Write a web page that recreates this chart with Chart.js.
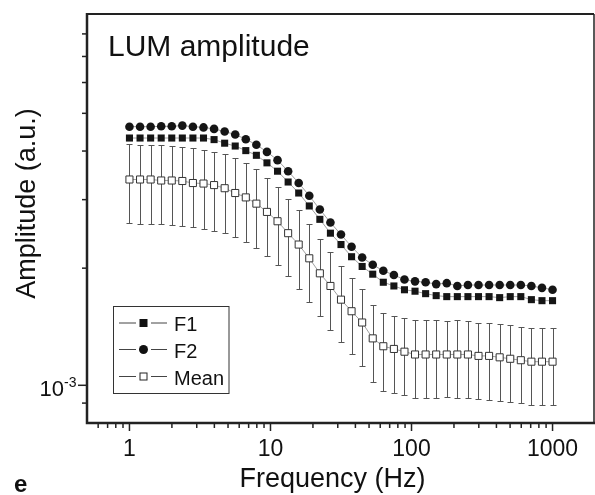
<!DOCTYPE html>
<html>
<head>
<meta charset="utf-8">
<script src="https://cdn.jsdelivr.net/npm/chart.js@4.4.1/dist/chart.umd.min.js"></script>
<style>
  html, body { margin: 0; padding: 0; background: #fff; }
</style>
</head>
<body>
<canvas id="lumChart" width="595" height="495"></canvas>
<script>
// Frequencies (Hz), 41 log-spaced steps from 1 to 1000
const freq = [
  1.000, 1.189, 1.413, 1.679, 1.995, 2.371, 2.818, 3.350, 3.981, 4.732,
  5.623, 6.683, 7.943, 9.441, 11.22, 13.34, 15.85, 18.84, 22.39, 26.61,
  31.62, 37.58, 44.67, 53.09, 63.10, 74.99, 89.13, 105.9, 125.9, 149.6,
  177.8, 211.3, 251.2, 298.5, 354.8, 421.7, 501.2, 595.7, 707.9, 841.4, 1000
];

// Amplitudes, in units of 10^-3
const f1 = [
  4.32, 4.32, 4.32, 4.32, 4.32, 4.32, 4.32, 4.32, 4.28, 4.19,
  4.12, 4.01, 3.90, 3.73, 3.55, 3.33, 3.12, 2.89, 2.67, 2.46,
  2.30, 2.14, 2.02, 1.93, 1.84, 1.80, 1.76, 1.745, 1.72, 1.70,
  1.69, 1.69, 1.69, 1.69, 1.69, 1.68, 1.69, 1.69, 1.66, 1.65, 1.65
];
const f2 = [
  4.62, 4.62, 4.62, 4.63, 4.63, 4.65, 4.62, 4.60, 4.56, 4.49,
  4.41, 4.29, 4.15, 3.98, 3.79, 3.55, 3.31, 3.07, 2.83, 2.62,
  2.44, 2.27, 2.13, 2.04, 1.97, 1.92, 1.87, 1.85, 1.84, 1.82,
  1.83, 1.80, 1.81, 1.81, 1.81, 1.81, 1.81, 1.81, 1.80, 1.78, 1.76
];
const mean = [
  3.38, 3.38, 3.38, 3.36, 3.36, 3.35, 3.31, 3.30, 3.27, 3.21,
  3.12, 3.04, 2.93, 2.79, 2.64, 2.46, 2.30, 2.12, 1.94, 1.80,
  1.66, 1.55, 1.45, 1.32, 1.26, 1.24, 1.22, 1.20, 1.20, 1.20,
  1.20, 1.20, 1.20, 1.19, 1.19, 1.18, 1.17, 1.16, 1.15, 1.15, 1.15
];
// error bar ends for the mean
const meanUpper = [
  4.17, 4.15, 4.15, 4.14, 4.13, 4.10, 4.07, 4.03, 3.98, 3.93,
  3.83, 3.73, 3.59, 3.42, 3.23, 3.02, 2.82, 2.60, 2.38, 2.20,
  2.03, 1.89, 1.77, 1.61, 1.53, 1.51, 1.49, 1.47, 1.47, 1.47,
  1.46, 1.47, 1.46, 1.45, 1.45, 1.44, 1.43, 1.41, 1.40, 1.40, 1.40
];
const meanLower = [
  2.61, 2.60, 2.60, 2.59, 2.58, 2.57, 2.55, 2.52, 2.49, 2.46,
  2.40, 2.34, 2.25, 2.15, 2.04, 1.91, 1.77, 1.64, 1.51, 1.39,
  1.29, 1.20, 1.12, 1.02, 0.968, 0.956, 0.943, 0.929, 0.925, 0.929,
  0.932, 0.929, 0.925, 0.923, 0.919, 0.912, 0.907, 0.898, 0.889, 0.889, 0.889
];
const unit = 1e-3;

const xTickLabels = [1, 10, 100, 1000];
const yMajorTick = 1e-3;

const FONT = "'Liberation Sans', Arial, Helvetica, sans-serif";

function toPoints(arr) {
  return arr.map((v, i) => ({ x: freq[i], y: v * unit }));
}

// log ticks at 1..9 x 10^n only (Chart.js also makes 1.5, 15, ...)
function isWholeStep(v) {
  const s = v / Math.pow(10, Math.floor(Math.log10(v) + 1e-9));
  return Math.abs(s - Math.round(s)) < 1e-6;
}

// error bars under the markers
const errorBars = {
  id: "errorBars",
  beforeDatasetsDraw(chart) {
    const { ctx } = chart;
    const x = chart.scales.x, y = chart.scales.y;
    ctx.save();
    ctx.strokeStyle = "#555";
    ctx.lineWidth = 1;
    freq.forEach((f, i) => {
      const px = Math.round(x.getPixelForValue(f)) + 0.5;
      const yt = Math.round(y.getPixelForValue(meanUpper[i] * unit)) + 0.5;
      const yb = Math.round(y.getPixelForValue(meanLower[i] * unit)) + 0.5;
      ctx.beginPath();
      ctx.moveTo(px, yt); ctx.lineTo(px, yb);
      ctx.moveTo(px - 3, yt); ctx.lineTo(px + 3, yt);
      ctx.moveTo(px - 3, yb); ctx.lineTo(px + 3, yb);
      ctx.stroke();
    });
    ctx.restore();
  }
};

// frame, tick marks, legend and the extra texts
const decorations = {
  id: "decorations",
  afterDraw(chart) {
    const { ctx, chartArea: a } = chart;
    const x = chart.scales.x, y = chart.scales.y;
    const right = a.right - 1;
    ctx.save();

    // frame
    ctx.strokeStyle = "#222";
    ctx.lineWidth = 2;
    ctx.beginPath();
    ctx.moveTo(a.left, a.top); ctx.lineTo(right, a.top);
    ctx.stroke();
    ctx.lineWidth = 1.5;
    ctx.beginPath();
    ctx.moveTo(right, a.top); ctx.lineTo(right, a.bottom);
    ctx.stroke();

    // tick marks
    ctx.lineWidth = 1.5;
    x.ticks.forEach(t => {
      if (!isWholeStep(t.value)) return;
      const px = x.getPixelForValue(t.value);
      if (px < a.left + 1 || px > right - 1) return;
      const len = xTickLabels.includes(t.value) ? 8 : 5;
      ctx.beginPath();
      ctx.moveTo(px, a.bottom); ctx.lineTo(px, a.bottom + len);
      ctx.stroke();
    });
    y.ticks.forEach(t => {
      if (!isWholeStep(t.value)) return;
      const py = y.getPixelForValue(t.value);
      if (py < a.top + 1 || py > a.bottom - 1) return;
      const len = Math.abs(t.value - yMajorTick) < 1e-9 ? 9 : 5;
      ctx.beginPath();
      ctx.moveTo(a.left, py); ctx.lineTo(a.left - len, py);
      ctx.stroke();
    });

    // left and bottom axis lines
    ctx.lineWidth = 2.5;
    ctx.beginPath();
    ctx.moveTo(a.left, a.top - 1); ctx.lineTo(a.left, a.bottom);
    ctx.lineTo(right + 1, a.bottom);
    ctx.stroke();

    ctx.fillStyle = "#111";
    // 10^-3 label
    const p3 = y.getPixelForValue(yMajorTick);
    ctx.textAlign = "right";
    ctx.textBaseline = "alphabetic";
    ctx.font = "22px " + FONT;
    ctx.fillText("10", 64, p3 + 11);
    ctx.textAlign = "left";
    ctx.font = "14px " + FONT;
    ctx.fillText("-3", 64, p3 + 2);

    // axis titles
    ctx.font = "27px " + FONT;
    ctx.textAlign = "center";
    ctx.fillText("Frequency (Hz)", 332.5, 487);
    ctx.save();
    ctx.translate(34.5, 203.5);
    ctx.rotate(-Math.PI / 2);
    ctx.fillText("Amplitude (a.u.)", 0, 0);
    ctx.restore();

    // panel title and letter
    ctx.textAlign = "left";
    ctx.font = "30px " + FONT;
    ctx.fillText("LUM amplitude", 108, 55.5);
    ctx.font = "bold 24px " + FONT;
    ctx.fillText("e", 14, 492);

    // legend
    ctx.strokeStyle = "#333";
    ctx.lineWidth = 1;
    ctx.strokeRect(113.5, 306.5, 115.5, 87);
    const rows = [
      { label: "F1", y: 323, style: "rect" },
      { label: "F2", y: 349.5, style: "circle" },
      { label: "Mean", y: 376.5, style: "open" }
    ];
    ctx.font = "20px " + FONT;
    rows.forEach(r => {
      ctx.strokeStyle = "#444";
      ctx.lineWidth = 1;
      ctx.beginPath();
      ctx.moveTo(119, r.y); ctx.lineTo(136, r.y);
      ctx.moveTo(151, r.y); ctx.lineTo(167, r.y);
      ctx.stroke();
      const cx = 143.5;
      if (r.style === "rect") {
        ctx.fillStyle = "#111";
        ctx.fillRect(cx - 4, r.y - 4, 8, 8);
      } else if (r.style === "circle") {
        ctx.fillStyle = "#111";
        ctx.beginPath();
        ctx.arc(cx, r.y, 4.5, 0, Math.PI * 2);
        ctx.fill();
      } else {
        ctx.fillStyle = "#fff";
        ctx.strokeStyle = "#222";
        ctx.fillRect(cx - 4, r.y - 4, 8, 8);
        ctx.strokeRect(cx - 3.5, r.y - 3.5, 7, 7);
      }
      ctx.fillStyle = "#111";
      ctx.fillText(r.label, 174, r.y + 8);
    });

    ctx.restore();
  }
};

const ctxLum = document.getElementById("lumChart").getContext("2d");
const lumChart = new Chart(ctxLum, {
  type: "line",
  data: {
    datasets: [
      {
        label: "F1",
        data: toPoints(f1),
        pointStyle: "rect",
        pointRadius: 5,
        pointBorderWidth: 0,
        pointBackgroundColor: "#151515",
        pointBorderColor: "#151515",
        borderColor: "#888",
        borderWidth: 0.8,
      },
      {
        label: "F2",
        data: toPoints(f2),
        pointStyle: "circle",
        pointRadius: 4.3,
        pointBorderWidth: 0,
        pointBackgroundColor: "#151515",
        pointBorderColor: "#151515",
        borderColor: "#888",
        borderWidth: 0.8,
      },
      {
        label: "Mean",
        data: toPoints(mean),
        pointStyle: "rect",
        pointRadius: 5,
        pointBorderWidth: 1,
        pointBackgroundColor: "#fff",
        pointBorderColor: "#333",
        borderColor: "#888",
        borderWidth: 0.8,
      },
    ],
  },
  options: {
    responsive: false,
    animation: false,
    layout: { autoPadding: false, padding: { top: 14, right: 0, left: 0, bottom: 0 } },
    elements: { line: { tension: 0 } },
    plugins: {
      legend: { display: false },
      tooltip: { enabled: false },
    },
    scales: {
      x: {
        type: "logarithmic",
        min: 0.5,
        max: 2000,
        grid: { display: false, drawTicks: false },
        border: { display: false },
        ticks: {
          autoSkip: false,
          maxRotation: 0,
          padding: 13,
          color: "#111",
          font: { family: FONT, size: 23 },
          callback: (value) => (xTickLabels.includes(value) ? String(value) : ""),
        },
        afterFit: (scale) => {
          scale.height = 72;
          scale.paddingLeft = 0;
          scale.paddingRight = 0;
        },
      },
      y: {
        type: "logarithmic",
        min: 0.8e-3,
        max: 9e-3,
        grid: { display: false, drawTicks: false },
        border: { display: false },
        ticks: { display: false },
        afterFit: (scale) => {
          scale.width = 87;
          scale.paddingTop = 0;
          scale.paddingBottom = 0;
        },
      },
    },
  },
  plugins: [errorBars, decorations],
});
</script>
</body>
</html>
